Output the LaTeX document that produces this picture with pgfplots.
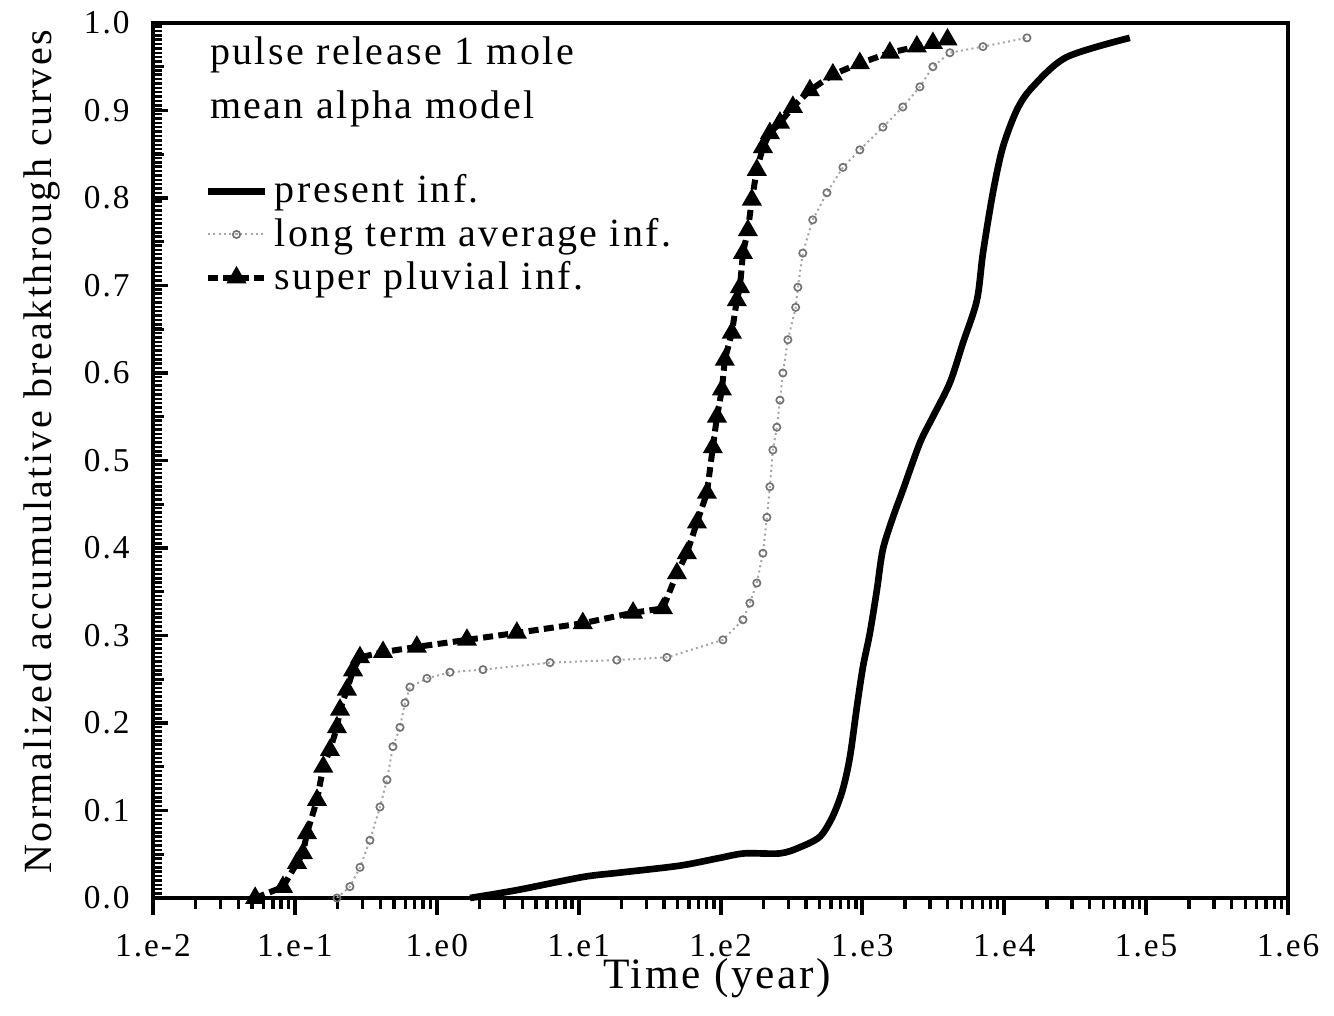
\documentclass[border=0pt]{standalone}
\usepackage{fontspec}
\setmainfont{Liberation Serif}[LetterSpace=6]
\usepackage{pgfplots}
\pgfplotsset{compat=1.18}

% Breakthrough curves: time (year), normalized cumulative release
\pgfplotstableread{
t        c
1.714    0.000
3.67     0.009
10.7     0.024
19.5     0.029
51.8     0.037
100      0.046
147.9    0.051
263      0.051
363      0.058
501      0.070
616.6    0.093
724.4    0.123
816.6    0.161
914.1    0.218
1009     0.264
1130     0.303
1265     0.352
1393     0.398
1641     0.435
1928     0.466
2541     0.520
3141     0.550
4140     0.589
5105     0.634
6412     0.683
7079     0.737
8318     0.806
9772     0.858
12300    0.901
15850    0.927
27540    0.961
76740    0.983
}\present

\pgfplotstableread{
t        c
0.198    0.000
0.2443   0.013
0.2877   0.035
0.338    0.066
0.398    0.104
0.4457   0.135
0.491    0.173
0.5508   0.195
0.597    0.223
0.647    0.241
0.853    0.251
1.239    0.258
2.118    0.261
6.28     0.269
18.6     0.272
41.9     0.275
104      0.295
143.9    0.318
161.1    0.337
180.3    0.360
199.1    0.394
212.3    0.435
222.8    0.470
233.9    0.512
249.5    0.538
262.4    0.569
275.4    0.600
298.5    0.638
338.8    0.675
350.8    0.698
380.2    0.737
446.7    0.775
562.3    0.806
729.5    0.835
959.4    0.855
1396     0.881
1928     0.904
2541     0.927
3141     0.950
4140     0.966
7079     0.973
14450    0.983
}\longterm

\pgfplotstableread{
t        c
0.0525   0.000
0.0824   0.0126
0.1035   0.040
0.114    0.051
0.1216   0.074
0.1432   0.112
0.1585   0.150
0.1766   0.169
0.198    0.195
0.208    0.215
0.2328   0.238
0.257    0.260
0.2877   0.275
0.418    0.281
0.724    0.287
1.633    0.295
3.67     0.303
10.7     0.314
24.2     0.326
39.3     0.331
49.3     0.371
57.9     0.394
68.2     0.429
80.2     0.463
88.3     0.515
94.4     0.550
102.3    0.581
107.2    0.615
120.2    0.646
130.3    0.683
137.1    0.698
143.9    0.737
156.0    0.763
166.3    0.798
180.3    0.832
199.1    0.858
222.8    0.874
262.4    0.886
323.6    0.904
426.6    0.923
619.4    0.941
959.4    0.954
1563     0.966
2421     0.973
3141     0.977
3981     0.981
}\pluvial

\begin{document}
\begin{tikzpicture}
\begin{axis}[
  name=ax,
  width=340.5pt, height=262.5pt, scale only axis,
  xmode=log, xmin=1e-2, xmax=1e6, ymin=0, ymax=1,
  clip=false,
  xtick={1e-2,1e-1,1,10,100,1000,1e4,1e5,1e6},
  xticklabels={1.e-2,1.e-1,1.e0,1.e1,1.e2,1.e3,1.e4,1.e5,1.e6},
  ytick={0,0.1,0.2,0.3,0.4,0.5,0.6,0.7,0.8,0.9,1.0},
  minor tick num=0,
  yticklabel style={/pgf/number format/fixed, /pgf/number format/fixed zerofill,
                    /pgf/number format/precision=1, xshift=-3.5pt},
  xticklabel style={yshift=-7.4pt},
  /pgf/number format/assume math mode=true,
  % the tick marks themselves are drawn below as a ruler
  every tick/.style={draw=none},
  axis line style={line width=1.2pt},
  tick label style={font=\fontsize{10}{12}\selectfont},
  xlabel={Time (year)},
  ylabel={Normalized accumulative breakthrough curves},
  every axis x label/.style={at={(axis description cs:0.497,-0.092)}, anchor=center, font=\fontsize{13}{15}\selectfont},
  every axis y label/.style={at={(axis description cs:-0.098,0.51)}, rotate=90, anchor=center, font=\fontsize{12}{14}\selectfont},
  legend style={at={(0.045,0.835)}, anchor=north west, draw=none, fill=none,
                font=\fontsize{12}{13}\selectfont, row sep=-1pt, inner sep=0pt},
  legend cell align=left,
]
\addplot[black, line width=2pt, smooth] table[x=t, y=c] {\present};
\addlegendentry{present inf.}
\addplot[gray!70, line width=0.6pt, densely dotted, mark=o, mark size=1.1pt,
         mark options={solid, black!55, line width=0.5pt}] table[x=t, y=c] {\longterm};
\addlegendentry{long term average inf.}
\addplot[black, line width=1.8pt, dash pattern=on 3pt off 1.6pt, mark=triangle*, mark size=1.7pt,
         mark options={solid}] table[x=t, y=c] {\pluvial};
\addlegendentry{super pluvial inf.}

% x ticks hang below the time axis
\pgfplotsinvokeforeach{1e-2,1e-1,1,10,100,1000,1e4,1e5,1e6}{
  \draw[line width=1.2pt] (axis cs:#1,0) -- ++(0pt,-5.2pt);}
\pgfplotsinvokeforeach{0.02,0.03,0.04,0.05,0.06,0.07,0.08,0.09,
               0.2,0.3,0.4,0.5,0.6,0.7,0.8,0.9,
               2,3,4,5,6,7,8,9,
               20,30,40,50,60,70,80,90,
               200,300,400,500,600,700,800,900,
               2000,3000,4000,5000,6000,7000,8000,9000,
               20000,30000,40000,50000,60000,70000,80000,90000,
               200000,300000,400000,500000,600000,700000,800000,900000}{
  \draw[line width=1pt] (axis cs:#1,0) -- ++(0pt,-3.4pt);}
% y ticks point into the plot: fine ruler every 0.005
\pgfplotsinvokeforeach{0,0.005,...,1.001}{
  \draw[line width=0.75pt] (rel axis cs:0,#1) -- ++(2.6pt,0pt);}
\pgfplotsinvokeforeach{0.05,0.15,...,0.96}{
  \draw[line width=0.9pt] (rel axis cs:0,#1) -- ++(3.4pt,0pt);}
\pgfplotsinvokeforeach{0,0.1,...,1.01}{
  \draw[line width=1.1pt] (rel axis cs:0,#1) -- ++(4.4pt,0pt);}

\node[anchor=base west, font=\fontsize{12}{14}\selectfont] at (rel axis cs:0.04,0.952) {pulse release 1 mole};
\node[anchor=base west, font=\fontsize{12}{14}\selectfont] at (rel axis cs:0.04,0.891) {mean alpha model};
\end{axis}
\pgfresetboundingbox
\path ([shift={(-45.9pt,-35.1pt)}]ax.south west) rectangle ([shift={(354.3pt,269.4pt)}]ax.south west);
\end{tikzpicture}
\end{document}
